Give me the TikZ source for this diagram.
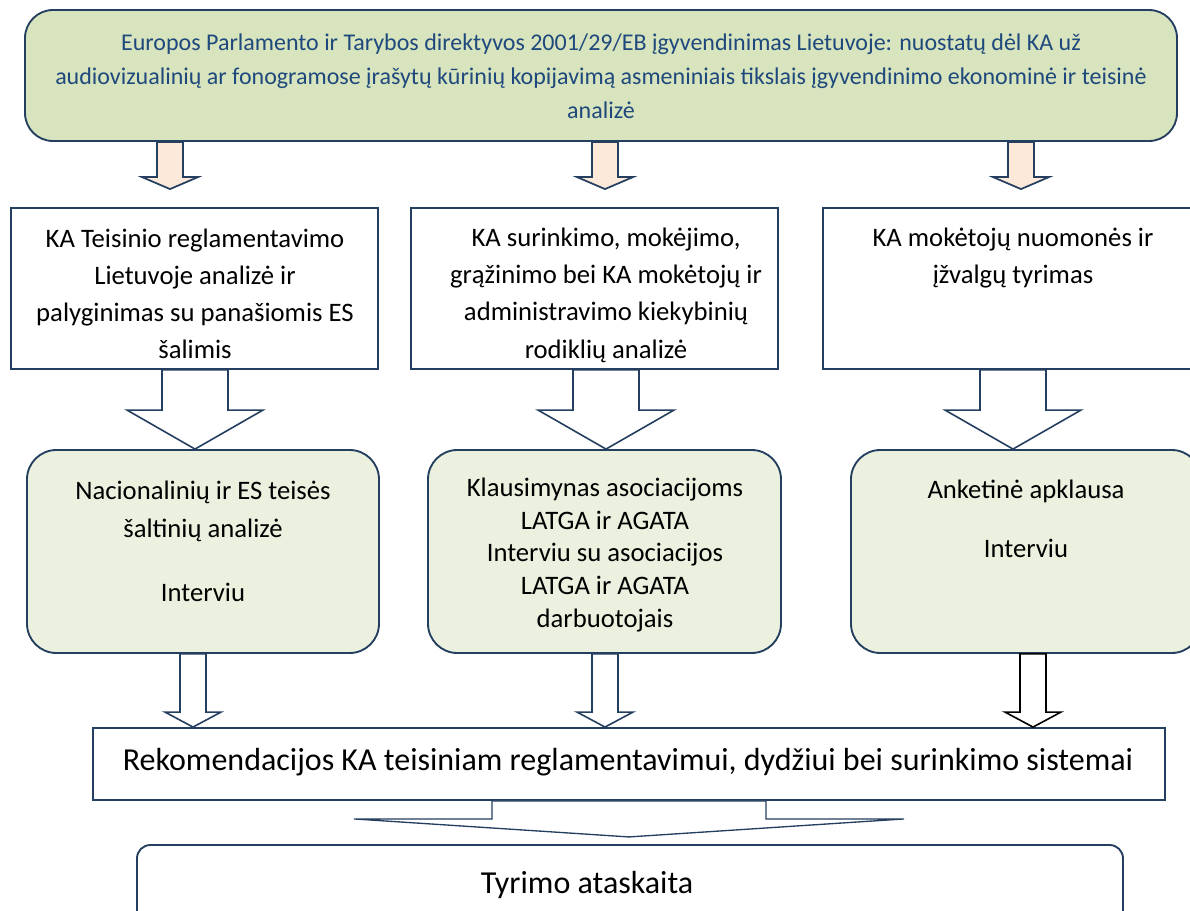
\documentclass[tikz,border=0pt]{standalone}
\usepackage{fontspec}
\setmainfont{Carlito}
\usetikzlibrary{positioning,fit,calc}

\definecolor{navy}{HTML}{243F60}
\definecolor{titleblue}{HTML}{1F497D}
\definecolor{topgreen}{HTML}{D7E4BD}
\definecolor{lightgreen}{HTML}{EBF1DE}
\definecolor{peach}{HTML}{FDE9D9}

\tikzset{
  plainbox/.style={draw=navy, line width=1.4pt, fill=white, inner sep=0pt},
  roundbox/.style={plainbox, fill=lightgreen, rounded corners=22pt},
  txt/.style={align=center, inner sep=0pt, font=\fontsize{20}{28}\selectfont},
  peacharrow/.style={draw=navy, line width=1.3pt, fill=peach},
  whitearrow/.style={draw=navy, line width=1.2pt, fill=white},
}

% style, start, tip, half shaft, half head, head length
\newcommand{\blockarrow}[6]{%
  \coordinate (tip) at (#3);
  \draw[#1] ($(#2)+(-#4,0)$) -- ($(tip)+(-#4,-#6)$) -- ($(tip)+(-#5,-#6)$) -- (tip)
    -- ($(tip)+(#5,-#6)$) -- ($(tip)+(#4,-#6)$) -- ($(#2)+(#4,0)$) -- cycle;
}

\begin{document}
\begin{tikzpicture}[x=0.75pt, y=-0.75pt]
\useasboundingbox (0,0) rectangle (1190,911);
\clip (0,0) rectangle (1190,911);

\node[plainbox, fill=topgreen, rounded corners=21pt, fit={(25,10) (1177,141)}] (top) {};
\node[txt, text=titleblue, font=\fontsize{18}{25.5}\selectfont] (toptext) at (601,76)
  {Europos Parlamento ir Tarybos direktyvos 2001/29/EB įgyvendinimas Lietuvoje: nuostatų dėl KA už\\
   audiovizualinių ar fonogramose įrašytų kūrinių kopijavimą asmeniniais tikslais įgyvendinimo ekonominė ir teisinė\\
   analizė};

\node[plainbox, fit={(11,208) (378,369)}] (boxA) {};
\node[plainbox, fit={(411,208) (778,369)}] (boxB) {};
\node[plainbox, fit={(823,208) (1203,369)}] (boxC) {};
\node[txt, font=\fontsize{20}{27.75}\selectfont] (textA) at (195,294)
  {KA Teisinio reglamentavimo\\ Lietuvoje analizė ir\\ palyginimas su panašiomis ES\\ šalimis};
\node[txt] (textB) at (606,295)
  {KA surinkimo, mokėjimo,\\ grąžinimo bei KA mokėtojų ir\\ administravimo kiekybinių\\ rodiklių analizė};
\node[txt] (textC) at (1013,258) {KA mokėtojų nuomonės ir\\ įžvalgų tyrimas};

\node[roundbox, fit={(27,450) (379,653)}] (boxD) {};
\node[roundbox, fit={(428,450) (781,653)}] (boxE) {};
\node[roundbox, fit={(851,450) (1201,653)}] (boxF) {};
\node[txt, font=\fontsize{20}{28.5}\selectfont] (textD) at (203,541)
  {Nacionalinių ir ES teisės\\ šaltinių analizė\\[19.5pt] Interviu};
\node[txt, font=\fontsize{20}{24.4}\selectfont] (textE) at (605,555)
  {Klausimynas asociacijoms\\ LATGA ir AGATA\\ Interviu su asociacijos\\ LATGA ir AGATA\\ darbuotojais};
\node[txt, font=\fontsize{20}{24}\selectfont] (textF) at (1026,519) {Anketinė apklausa\\[20pt] Interviu};

\node[plainbox, fit={(93,728) (1165,800)}] (rec) {};
\node[txt, font=\fontsize{24}{29}\selectfont] (rectext) at (628,762)
  {Rekomendacijos KA teisiniam reglamentavimui, dydžiui bei surinkimo sistemai};

\node[plainbox, rounded corners=10pt, fit={(137,845) (1123,940)}] (final) {};
\node[txt, font=\fontsize{24}{29}\selectfont] (finaltext) at (587,885) {Tyrimo ataskaita};

\coordinate (s1) at (170,0 |- top.south);
\coordinate (s2) at (605,0 |- top.south);
\coordinate (s3) at (1021,0 |- top.south);
\blockarrow{peacharrow}{s1}{$(s1 |- boxA.north)+(0,-18)$}{13}{28}{12}
\blockarrow{peacharrow}{s2}{$(s2 |- boxB.north)+(0,-18)$}{13}{28}{12}
\blockarrow{peacharrow}{s3}{$(s3 |- boxC.north)+(0,-18)$}{13}{28}{12}

\coordinate (m1) at (195,0 |- boxA.south);
\coordinate (m2) at (606,0 |- boxB.south);
\coordinate (m3) at (1013,0 |- boxC.south);
\blockarrow{whitearrow}{m1}{m1 |- boxD.north}{33}{68}{39}
\blockarrow{whitearrow}{m2}{m2 |- boxE.north}{33}{68}{39}
\blockarrow{whitearrow}{m3}{m3 |- boxF.north}{33}{68}{39}

\coordinate (b1) at (193,0 |- boxD.south);
\coordinate (b2) at (605,0 |- boxE.south);
\coordinate (b3) at (1033,0 |- boxF.south);
\blockarrow{whitearrow}{b1}{b1 |- rec.north}{13}{28}{15}
\blockarrow{whitearrow}{b2}{b2 |- rec.north}{13}{28}{15}
\blockarrow{whitearrow, draw=black}{b3}{b3 |- rec.north}{13}{28}{15}

\blockarrow{whitearrow, line width=1pt}{rec.south}{$(rec.south)+(0,36)$}{137}{275}{18}
\end{tikzpicture}
\end{document}
